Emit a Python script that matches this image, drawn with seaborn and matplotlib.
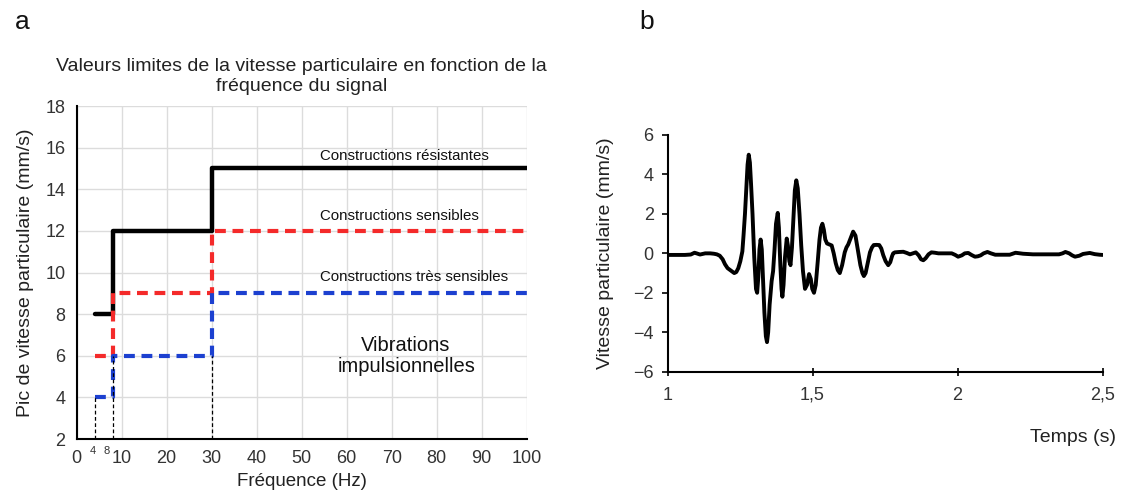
import matplotlib
matplotlib.use("Agg")
import matplotlib.pyplot as plt
import matplotlib.transforms as mtransforms
import seaborn as sns

sns.set_style("whitegrid")
plt.rcParams["font.family"] = ["Liberation Sans", "DejaVu Sans"]

# Panneau a : seuils (Hz -> mm/s), paliers
freq_paliers = [4, 8, 30, 100]
seuil_resistantes = [8, 12, 15, 15]
seuil_sensibles = [6, 9, 12, 12]
seuil_tres_sensibles = [4, 6, 9, 9]
reperes_x = [4, 8, 30]
reperes_haut = [4, 6, 6]
ticks_freq = [0, 10, 20, 30, 40, 50, 60, 70, 80, 90, 100]
ticks_pic = [2, 4, 6, 8, 10, 12, 14, 16, 18]
ticks_petits = [4, 8]

# Panneau b : signal de vitesse particulaire
temps = [1.00, 1.03, 1.06, 1.08, 1.093, 1.10, 1.112, 1.13, 1.147, 1.16, 1.17, 1.18,
         1.19, 1.198, 1.207, 1.216, 1.223, 1.23, 1.237, 1.244, 1.251, 1.258, 1.262, 1.267,
         1.272, 1.276, 1.28, 1.284, 1.288, 1.293, 1.299, 1.305, 1.309, 1.313, 1.317, 1.321,
         1.325, 1.329, 1.334, 1.339, 1.343, 1.347, 1.352, 1.359, 1.364, 1.369, 1.374, 1.38,
         1.384, 1.389, 1.393, 1.396, 1.400, 1.405, 1.411, 1.415, 1.42, 1.424, 1.429, 1.434,
         1.439, 1.444, 1.449, 1.455, 1.461, 1.467, 1.474, 1.481, 1.488, 1.494, 1.499, 1.505,
         1.511, 1.518, 1.524, 1.529, 1.534, 1.539, 1.544, 1.55, 1.558, 1.566, 1.573, 1.58,
         1.587, 1.594, 1.602, 1.611, 1.617, 1.623, 1.631, 1.64, 1.648, 1.657, 1.665, 1.672,
         1.677, 1.683, 1.69, 1.698, 1.705, 1.711, 1.72, 1.73, 1.737, 1.744, 1.752, 1.761,
         1.768, 1.774, 1.778, 1.784, 1.80, 1.813, 1.825, 1.836, 1.846, 1.856, 1.866, 1.874,
         1.882, 1.89, 1.90, 1.91, 1.922, 1.934, 1.96, 1.98, 1.992, 2.002, 2.015, 2.025,
         2.037, 2.048, 2.06, 2.07, 2.08, 2.09, 2.103, 2.115, 2.13, 2.18, 2.2, 2.226,
         2.26, 2.30, 2.35, 2.362, 2.372, 2.385, 2.395, 2.405, 2.42, 2.433, 2.456, 2.473,
         2.49, 2.50]
vitesse = [-0.08, -0.08, -0.08, -0.06, 0.03, 0.0, -0.06, 0.0, 0.0, -0.02, -0.05, -0.12,
           -0.3, -0.55, -0.75, -0.85, -0.93, -1.0, -0.95, -0.75, -0.4, 0.1, 0.9, 2.0,
           3.4, 4.5, 5.0, 4.6, 3.5, 2.0, -0.2, -1.8, -2.0, -1.2, 0.2, 0.7,
           0.2, -1.2, -3.0, -4.2, -4.5, -4.0, -2.6, -1.4, -0.9, 0.2, 1.5, 2.05,
           1.3, -0.6, -1.8, -2.2, -1.6, -0.2, 0.75, 0.4, -0.4, -0.6, 0.3, 1.8,
           3.2, 3.7, 3.3, 2.0, 0.4, -0.9, -1.8, -1.6, -1.05, -1.3, -1.8, -2.0,
           -1.6, -0.4, 0.7, 1.3, 1.5, 1.2, 0.7, 0.5, 0.45, 0.4, 0.0, -0.5,
           -0.85, -1.0, -0.6, 0.05, 0.3, 0.45, 0.75, 1.1, 0.9, 0.1, -0.6, -1.0,
           -1.15, -1.0, -0.5, 0.05, 0.3, 0.42, 0.43, 0.42, 0.25, -0.1, -0.4, -0.6,
           -0.45, -0.15, 0.0, 0.05, 0.07, 0.08, 0.02, -0.05, 0.0, 0.05, -0.1, -0.3,
           -0.35, -0.25, -0.05, 0.05, 0.03, 0.0, 0.0, 0.0, -0.08, -0.17, -0.1, 0.0,
           0.02, -0.08, -0.17, -0.15, -0.1, 0.0, 0.07, 0.0, -0.07, -0.07, 0.03, -0.02,
           -0.05, -0.05, -0.05, 0.0, 0.07, 0.0, -0.1, -0.17, -0.12, -0.03, 0.02, -0.04,
           -0.07, -0.08]
ticks_temps = [1, 1.5, 2, 2.5]
labels_temps = ["1", "1,5", "2", "2,5"]
ticks_vitesse = [-6, -4, -2, 0, 2, 4, 6]

rouge = "#f42a2a"
bleu = "#1c40d0"
gris_txt = "#333333"

fig = plt.figure(figsize=(11.24, 4.97), dpi=100)
ax_a = fig.add_axes([0.0682, 0.1167, 0.4004, 0.67])
ax_b = fig.add_axes([0.5939, 0.2521, 0.387, 0.4763])

# ---- panneau a
sns.lineplot(x=freq_paliers, y=seuil_resistantes, ax=ax_a, color="black", lw=3.2,
             drawstyle="steps-post", estimator=None, sort=False)
sns.lineplot(x=freq_paliers, y=seuil_sensibles, ax=ax_a, color=rouge, lw=3.0,
             drawstyle="steps-post", estimator=None, sort=False, linestyle=(0, (2.6, 1.6)))
sns.lineplot(x=freq_paliers, y=seuil_tres_sensibles, ax=ax_a, color=bleu, lw=3.0,
             drawstyle="steps-post", estimator=None, sort=False, linestyle=(0, (2.6, 1.6)))
ax_a.vlines(reperes_x, 2, reperes_haut, colors="black", linestyles=(0, (3, 2)), lw=0.9)

ax_a.set_xlim(0, 100)
ax_a.set_ylim(2, 18)
ax_a.set_xticks(ticks_freq)
ax_a.set_yticks(ticks_pic)
ax_a.tick_params(length=0, labelsize=13, labelcolor=gris_txt, pad=8)
ax_a.grid(True, color="#dcdcdc", lw=1)
for s in ["top", "right"]:
    ax_a.spines[s].set_visible(False)
for s in ["left", "bottom"]:
    ax_a.spines[s].set_color("black")
    ax_a.spines[s].set_linewidth(1.5)

# petites étiquettes 4 et 8, un peu décalées à gauche comme sur l'original
trans = mtransforms.blended_transform_factory(ax_a.transData, ax_a.transAxes)
for xp, dx in zip(ticks_petits, [-1.5, -4.5]):
    ax_a.annotate(str(xp), xy=(xp, -0.036), xycoords=trans, xytext=(dx, 0),
                  textcoords="offset points", ha="center", va="center",
                  fontsize=8, color=gris_txt)

ax_a.set_xlabel("Fréquence (Hz)", fontsize=13.5, color="#222222", labelpad=4)
ax_a.set_ylabel("Pic de vitesse particulaire (mm/s)", fontsize=14, color="#222222", labelpad=8)
ax_a.set_title("Valeurs limites de la vitesse particulaire en fonction de la\nfréquence du signal",
               fontsize=14, color="#222222", linespacing=1.2, pad=11)

ax_a.text(54, 15.6, "Constructions résistantes", fontsize=10.8, va="center", color="#111111")
ax_a.text(54, 12.72, "Constructions sensibles", fontsize=10.8, va="center", color="#111111")
ax_a.text(54, 9.79, "Constructions très sensibles", fontsize=10.8, va="center", color="#111111")
ax_a.text(73.2, 6.0, "Vibrations\nimpulsionnelles", fontsize=14.5, ha="center", va="center",
          linespacing=1.1, color="#111111")

# ---- panneau b
sns.lineplot(x=temps, y=vitesse, ax=ax_b, color="black", lw=2.8, estimator=None, sort=False)
ax_b.grid(False)
ax_b.set_xlim(1, 2.5)
ax_b.set_ylim(-6, 6)
ax_b.set_xticks(ticks_temps)
ax_b.set_xticklabels(labels_temps)
ax_b.set_yticks(ticks_vitesse)
ax_b.tick_params(axis="y", direction="out", length=4, width=1.2, color="black",
                 labelsize=13, labelcolor=gris_txt, left=True, pad=6)
ax_b.tick_params(axis="x", direction="inout", length=6, width=1.2, color="black",
                 labelsize=13, labelcolor=gris_txt, bottom=True, pad=8)
for s in ["top", "right"]:
    ax_b.spines[s].set_visible(False)
for s in ["left", "bottom"]:
    ax_b.spines[s].set_color("black")
    ax_b.spines[s].set_linewidth(1.5)
ax_b.set_ylabel("Vitesse particulaire (mm/s)", fontsize=14, color="#222222", labelpad=14)
ax_b.set_xlabel("Temps (s)", fontsize=14, color="#222222")
ax_b.xaxis.set_label_coords(1.03, -0.24)
ax_b.xaxis.label.set_horizontalalignment("right")

fig.text(0.013, 0.955, "a", fontsize=19, va="center", color="#111111")
fig.text(0.569, 0.955, "b", fontsize=19, va="center", color="#111111")

fig.savefig("out.png", dpi=100)
